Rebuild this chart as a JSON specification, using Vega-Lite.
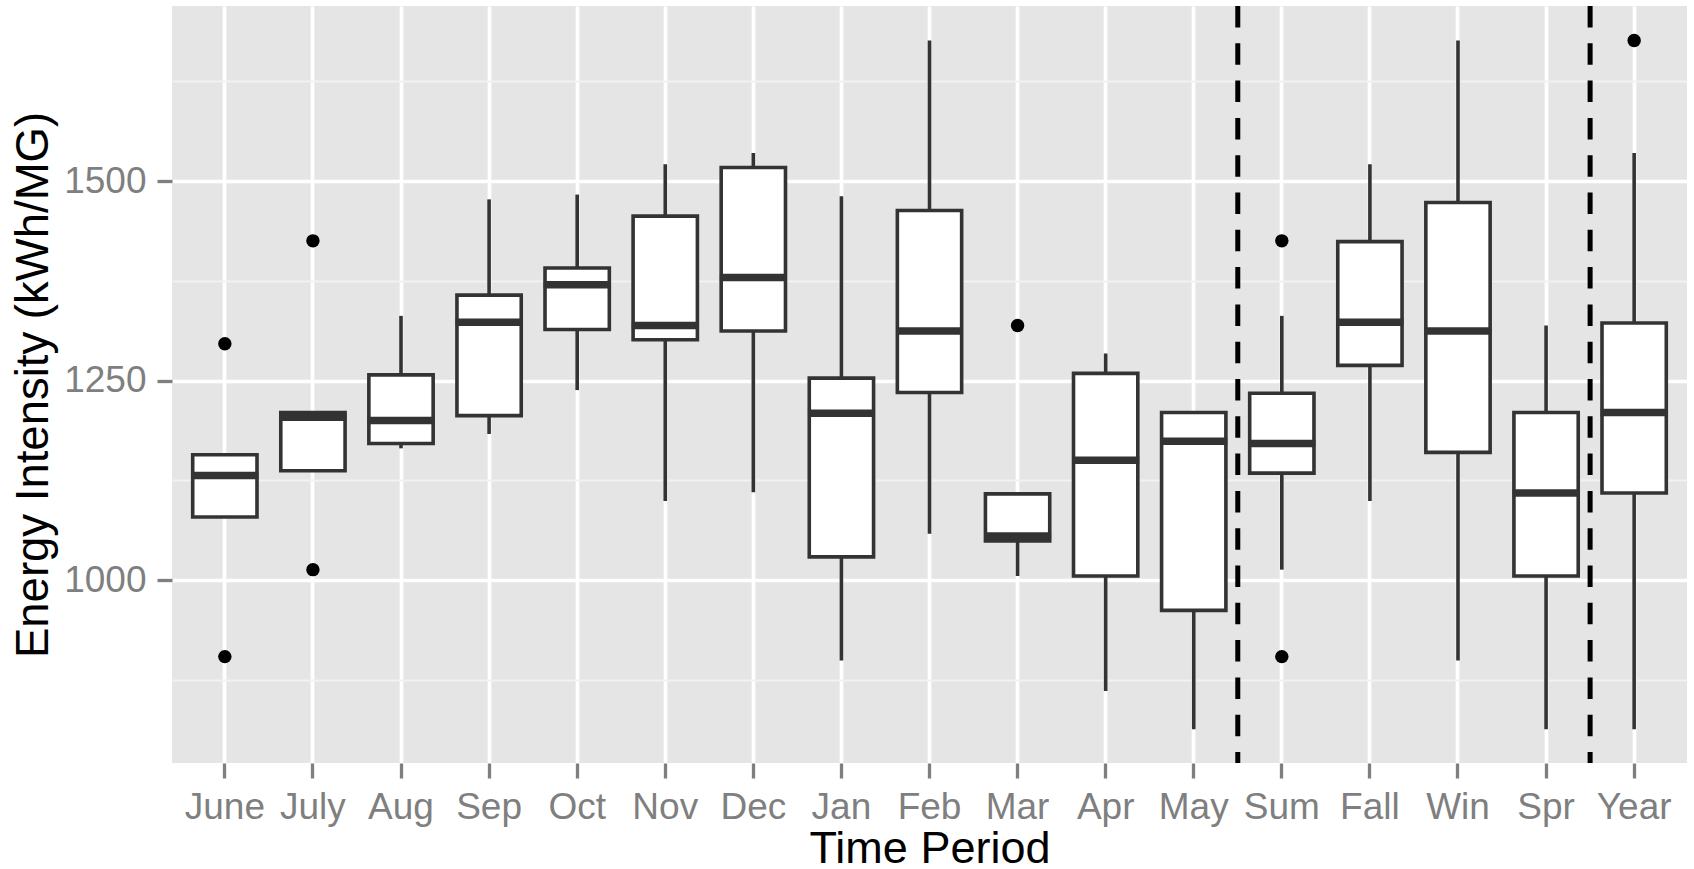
{
  "$schema": "https://vega.github.io/schema/vega-lite/v6.json",
  "width": 1515,
  "height": 757,
  "autosize": {"type": "none"},
  "padding": {"left": 172, "top": 6, "right": 7, "bottom": 106},
  "background": "#FFFFFF",
  "view": {"fill": "#E5E5E5", "stroke": null},
  "config": {
    "font": "Liberation Sans",
    "axis": {"domain": false, "labelFont": "Liberation Sans", "titleFont": "Liberation Sans", "titleFontWeight": "normal", "titleColor": "#000000", "labelColor": "#7F7F7F", "tickColor": "#7F7F7F"}
  },
  "datasets": {
    "boxes": [
      {"period": "June", "lo": 1079, "q1": 1079, "med": 1131, "q3": 1157, "hi": 1157},
      {"period": "July", "lo": 1137, "q1": 1137, "med": 1204, "q3": 1210, "hi": 1210},
      {"period": "Aug", "lo": 1165, "q1": 1171, "med": 1200, "q3": 1257, "hi": 1331},
      {"period": "Sep", "lo": 1183, "q1": 1206, "med": 1323, "q3": 1357, "hi": 1477},
      {"period": "Oct", "lo": 1238, "q1": 1314, "med": 1370, "q3": 1391, "hi": 1483},
      {"period": "Nov", "lo": 1099, "q1": 1301, "med": 1319, "q3": 1456, "hi": 1521},
      {"period": "Dec", "lo": 1110, "q1": 1312, "med": 1379, "q3": 1517, "hi": 1535},
      {"period": "Jan", "lo": 899, "q1": 1029, "med": 1209, "q3": 1253, "hi": 1481},
      {"period": "Feb", "lo": 1058, "q1": 1235, "med": 1312, "q3": 1463, "hi": 1676},
      {"period": "Mar", "lo": 1005, "q1": 1049, "med": 1055, "q3": 1108, "hi": 1108},
      {"period": "Apr", "lo": 861, "q1": 1005, "med": 1150, "q3": 1259, "hi": 1284},
      {"period": "May", "lo": 813, "q1": 962, "med": 1174, "q3": 1210, "hi": 1210},
      {"period": "Sum", "lo": 1013, "q1": 1134, "med": 1171, "q3": 1234, "hi": 1331},
      {"period": "Fall", "lo": 1099, "q1": 1269, "med": 1323, "q3": 1424, "hi": 1521},
      {"period": "Win", "lo": 899, "q1": 1160, "med": 1312, "q3": 1473, "hi": 1676},
      {"period": "Spr", "lo": 813, "q1": 1005, "med": 1109, "q3": 1210, "hi": 1319},
      {"period": "Year", "lo": 813, "q1": 1109, "med": 1210, "q3": 1322, "hi": 1535}
    ],
    "outliers": [
      {"period": "June", "value": 1296},
      {"period": "June", "value": 904},
      {"period": "July", "value": 1425},
      {"period": "July", "value": 1013},
      {"period": "Mar", "value": 1319},
      {"period": "Sum", "value": 1425},
      {"period": "Sum", "value": 904},
      {"period": "Year", "value": 1676}
    ],
    "dividers": [
      {"period": "May"},
      {"period": "Spr"}
    ]
  },
  "encoding": {
    "x": {
      "field": "period",
      "type": "nominal",
      "title": "Time Period",
      "scale": {"domain": ["June", "July", "Aug", "Sep", "Oct", "Nov", "Dec", "Jan", "Feb", "Mar", "Apr", "May", "Sum", "Fall", "Win", "Spr", "Year"], "paddingInner": 0, "paddingOuter": 0.1},
      "axis": {
        "labelAngle": 0,
        "labelFontSize": 37,
        "labelPadding": 11,
        "tickSize": 15,
        "tickWidth": 3.3,
        "bandPosition": 0.5,
        "grid": true,
        "gridColor": "#FFFFFF",
        "gridWidth": 3.7,
        "titleFontSize": 45,
        "titleBaseline": "alphabetic",
        "titleY": 99
      }
    }
  },
  "layer": [
    {
      "data": {"name": "boxes"},
      "mark": {"type": "rule", "color": "#333333", "strokeWidth": 3.6},
      "encoding": {
        "y": {
          "field": "lo",
          "type": "quantitative",
          "title": "Energy Intensity (kWh/MG)",
          "scale": {"domain": [770.7, 1719.3], "nice": false, "zero": false},
          "axis": {
            "values": [875, 1000, 1125, 1250, 1375, 1500, 1625],
            "format": "d",
            "labelExpr": "datum.value % 250 == 0 ? datum.label : ''",
            "labelFontSize": 37,
            "labelPadding": 11,
            "tickSize": 15,
            "tickWidth": 3.3,
            "tickOpacity": {"condition": {"test": "datum.value % 250 == 0", "value": 1}, "value": 0},
            "grid": true,
            "gridColor": {"condition": {"test": "datum.value % 250 == 0", "value": "#FFFFFF"}, "value": "#F2F2F2"},
            "gridWidth": {"condition": {"test": "datum.value % 250 == 0", "value": 3.7}, "value": 1.8},
            "titleFontSize": 45.5,
            "titleBaseline": "alphabetic",
            "titleX": -125
          }
        },
        "y2": {"field": "hi"}
      }
    },
    {
      "data": {"name": "boxes"},
      "mark": {"type": "bar", "fill": "#FFFFFF", "stroke": "#333333", "strokeWidth": 3.6, "width": {"band": 0.73}},
      "encoding": {
        "y": {"field": "q1", "type": "quantitative"},
        "y2": {"field": "q3"}
      }
    },
    {
      "data": {"name": "boxes"},
      "mark": {"type": "tick", "color": "#333333", "size": 67, "thickness": 7.5, "opacity": 1},
      "encoding": {
        "y": {"field": "med", "type": "quantitative"}
      }
    },
    {
      "data": {"name": "outliers"},
      "mark": {"type": "point", "filled": true, "color": "#000000", "size": 180, "opacity": 1, "strokeWidth": 0},
      "encoding": {
        "y": {"field": "value", "type": "quantitative"}
      }
    },
    {
      "data": {"name": "dividers"},
      "mark": {"type": "rule", "color": "#000000", "strokeWidth": 5, "strokeDash": [21.5, 15.8]},
      "encoding": {
        "x": {"field": "period", "type": "nominal", "bandPosition": 1},
        "y": {"datum": 1719.3, "type": "quantitative"},
        "y2": {"datum": 770.7}
      }
    }
  ]
}
